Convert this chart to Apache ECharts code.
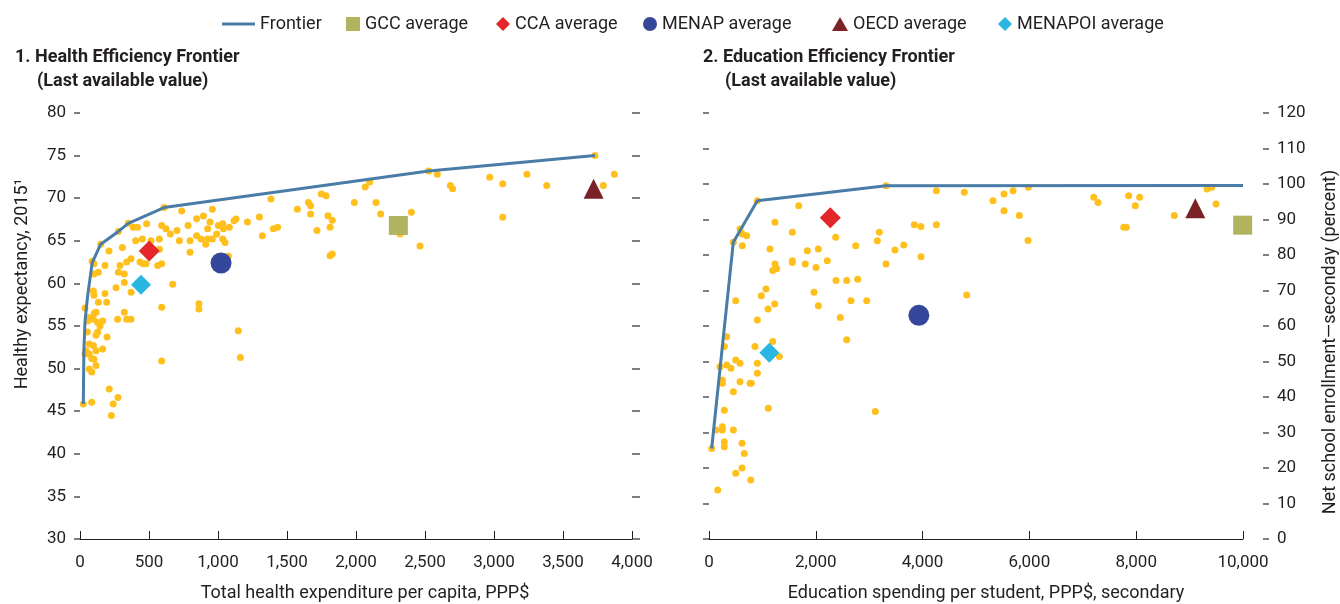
<!DOCTYPE html>
<html>
<head>
<meta charset="utf-8">
<script src="https://cdn.jsdelivr.net/npm/echarts@6/dist/echarts.min.js"></script>
<style>
html,body{margin:0;padding:0;background:#fff;}
#chart{width:1340px;height:604px;}
</style>
</head>
<body>
<div id="chart"></div>
<script>
// ---------- DATA ----------
const healthXTicks = [0, 500, 1000, 1500, 2000, 2500, 3000, 3500, 4000];
const healthYTicks = [30, 35, 40, 45, 50, 55, 60, 65, 70, 75, 80];
const eduXTicks = [0, 2000, 4000, 6000, 8000, 10000];
const eduYTicks = [0, 10, 20, 30, 40, 50, 60, 70, 80, 90, 100, 110, 120];

const healthFrontier = [[24,45.85],[28,52],[36,55.5],[55,58.5],[88,62.4],[150,64.6],[278,66.1],[350,67.05],[609,68.9],[2527,73.2],[3732,75.0]];
const healthCountries = [
 [609,68.9],[737,68.5],[959,68.7],[894,67.9],[845,67.6],[783,66.8],[703,66.2],[655,65.8],[623,66.4],[592,66.8],
 [483,67.0],[416,66.6],[386,66.6],[350,67.05],[278,66.1],[150,64.6],[210,63.8],[307,64.2],[403,65.0],[452,65.2],
 [514,65.0],[575,65.2],[575,64.0],[720,65.0],[797,65.0],[797,63.65],[845,65.6],[877,65.2],[911,64.6],[925,65.2],
 [959,65.2],[990,65.8],[925,66.4],[942,67.2],[1002,66.8],[1034,67.0],[1039,66.4],[1034,65.2],[1051,64.8],[1082,66.6],
 [1116,67.35],[1130,67.55],[1213,67.2],[1300,67.8],[88,62.6],[101,62.3],[181,62.1],[133,61.3],[101,61.1],[290,62.1],
 [338,62.5],[370,62.9],[435,62.5],[459,62.3],[478,62.3],[563,62.1],[592,62.3],[278,61.3],[321,61.1],[261,59.5],
 [321,60.1],[370,58.95],[672,59.9],[97,59.1],[101,58.6],[181,58.8],[193,57.8],[133,57.8],[36,57.1],[1075,63.2],
 [592,57.2],[862,57.6],[862,57.0],[321,56.6],[67,56.0],[104,56.5],[116,56.6],[97,55.8],[56,55.6],[128,55.4],
 [164,55.6],[145,55.0],[273,55.8],[338,55.8],[370,55.8],[53,54.3],[128,54.3],[116,53.9],[196,53.7],[1147,54.45],
 [67,52.9],[97,52.7],[43,52.1],[36,51.7],[67,51.7],[85,51.2],[101,51.1],[164,52.3],[116,52.1],[1162,51.3],
 [592,50.9],[116,50.35],[67,49.95],[85,49.6],[212,47.6],[275,46.6],[241,45.85],[227,44.5],[85,46.05],[24,45.85],
 [1384,69.9],[1575,68.7],[1655,69.5],[1671,69.1],[1671,68.15],[1749,70.5],[1783,70.3],[1797,67.95],[1828,67.4],[1812,66.6],
 [1717,66.2],[1812,63.25],[1828,63.45],[1988,69.5],[2067,71.3],[2099,71.9],[2145,69.5],[2179,68.15],[2401,68.35],[2319,65.8],
 [2464,64.4],[2527,73.2],[2589,72.8],[2684,71.5],[2700,71.1],[1401,66.4],[1432,66.6],[1321,65.6],
 [3732,75.0],[3872,72.8],[3792,71.5],[3239,72.8],[3382,71.5],[2969,72.45],[3063,71.7],[3063,67.75]
];
const healthGCC = [2307, 66.8];
const healthCCA = [502, 63.8];
const healthMENAP = [1022, 62.4];
const healthOECD = [3722, 71.1];
const healthMENAPOI = [442, 59.85];

const eduFrontier = [[50,25.5],[455,83.6],[905,95.3],[3315,99.5],[10000,99.6]];
const eduCountries = [
 [905,95.3],[3315,99.5],[1680,93.9],[1236,89.2],[581,87.3],[624,85.9],[706,85.4],[455,83.6],[624,82.6],[1560,86.4],
 [2372,85.0],[2747,82.6],[3189,86.4],[3152,84.0],[3315,77.5],[1142,81.7],[1841,81.2],[2047,81.7],[2215,78.4],[1560,78.4],
 [1560,77.9],[1803,77.5],[2004,76.5],[1236,77.5],[1268,76.1],[1193,75.6],[2378,72.8],[2579,72.8],[2784,73.2],[1067,70.4],
 [980,68.5],[1230,66.2],[1105,64.8],[1966,69.5],[2047,65.7],[2659,67.1],[2953,67.1],[2459,62.4],[500,67.1],[905,61.7],
 [2579,56.1],[331,57.0],[287,54.2],[861,54.2],[1193,55.6],[1317,51.4],[500,50.4],[581,49.5],[331,49.0],[412,48.1],
 [206,48.5],[905,49.5],[905,46.7],[250,44.8],[250,43.9],[581,44.3],[768,43.9],[792,43.9],[456,41.5],[1111,36.8],
 [3114,35.9],[287,36.3],[250,31.6],[250,30.7],[125,30.7],[456,30.7],[287,27.4],[287,26.0],[618,27.0],[661,24.1],
 [618,20.0],[500,18.5],[781,16.6],[163,13.8],[50,25.5],
 [3483,81.4],[3646,82.8],[3845,88.5],[3970,88.0],[4257,88.5],[3970,79.5],[4826,68.7],[4257,98.1],[4781,97.7],[5318,95.3],
 [5524,97.2],[5693,98.1],[5980,99.1],[5524,92.5],[5811,91.1],[5974,84.1],
 [7204,96.3],[7285,94.8],[7859,96.7],[8065,96.3],[7983,93.9],[7766,87.8],[7815,87.8],[8714,91.1],[9326,98.6],[9414,99.1],[9494,94.4]
];
const eduGCC = [9994, 88.4];
const eduCCA = [2272, 90.5];
const eduMENAP = [3930, 63.0];
const eduOECD = [9107, 93.2];
const eduMENAPOI = [1130, 52.5];

// ---------- STYLE ----------
const FONT = 'Roboto, "Liberation Sans", sans-serif';
const TXT = '#231f20';
const C = {
  frontier: '#4a7ca8', dots: '#ffc01e', gcc: '#b1b35f', cca: '#e2262a',
  menap: '#35479a', oecd: '#7b2226', menapoi: '#29b6e0'
};
const fmt = v => Number(v).toLocaleString('en-US');

function xAxisDef(grid, ticks) {
  return {
    type: 'value', gridIndex: grid,
    min: ticks[0], max: ticks[ticks.length-1], interval: ticks[1]-ticks[0],
    axisLine: {show: true, onZero: false, lineStyle: {color: TXT, width: 1}},
    axisTick: {show: true, inside: true, length: 8, lineStyle: {color: TXT, width: 1}},
    axisLabel: {margin: 15, fontSize: 17, color: TXT, fontFamily: FONT, formatter: fmt},
    splitLine: {show: false}
  };
}
function yAxisDef(grid, ticks, pos, showLabel, tickLen, offset) {
  return {
    type: 'value', gridIndex: grid, position: pos, offset: offset || 0,
    min: ticks[0], max: ticks[ticks.length-1], interval: ticks[1]-ticks[0],
    axisLine: {show: false},
    axisTick: {show: true, inside: false, length: tickLen, lineStyle: {color: '#555', width: 1.5}},
    axisLabel: {show: showLabel, margin: 14, fontSize: 17, color: TXT, fontFamily: FONT},
    splitLine: {show: false}
  };
}

function panelSeries(xi, yi, frontier, dots, gcc, cca, menap, oecd, menapoi) {
  const sc = (name, data, symbol, size, color) => ({
    name: name, type: 'scatter', xAxisIndex: xi, yAxisIndex: yi, data: data,
    symbol: symbol, symbolSize: size, itemStyle: {color: color, opacity: 1}, z: 5
  });
  return [
    {name: 'countries', type: 'scatter', xAxisIndex: xi, yAxisIndex: yi, data: dots,
     symbol: 'circle', symbolSize: 7, itemStyle: {color: C.dots, opacity: 1}, z: 2, silent: true},
    {name: 'Frontier', type: 'line', xAxisIndex: xi, yAxisIndex: yi, data: frontier,
     symbol: 'none', lineStyle: {color: C.frontier, width: 3}, itemStyle: {color: C.frontier}, z: 3},
    sc('GCC average', [gcc], 'rect', 19, C.gcc),
    sc('CCA average', [cca], 'diamond', 21, C.cca),
    sc('MENAP average', [menap], 'circle', 21, C.menap),
    sc('OECD average', [oecd], 'triangle', 20, C.oecd),
    sc('MENAPOI average', [menapoi], 'diamond', 20, C.menapoi)
  ];
}

function legendItem(name, left, icon, w, h) {
  return {
    data: [{name: name, icon: icon}], left: left, top: 15,
    itemWidth: w, itemHeight: h, itemGap: 0, padding: 0,
    selectedMode: false,
    textStyle: {fontSize: 18, color: TXT, fontFamily: FONT}
  };
}

const chart = echarts.init(document.getElementById('chart'), null, {renderer: 'canvas'});
chart.setOption({
  animation: false,
  backgroundColor: '#fff',
  legend: [
    legendItem('Frontier', 222, 'rect', 33, 3),
    legendItem('GCC average', 346, 'rect', 14, 14),
    legendItem('CCA average', 496, 'diamond', 14, 14),
    legendItem('MENAP average', 643, 'circle', 14, 14),
    legendItem('OECD average', 832, 'triangle', 16, 14),
    legendItem('MENAPOI average', 998, 'diamond', 14, 14)
  ],
  grid: [
    {left: 80, top: 113, width: 552, height: 426},
    {left: 709, top: 113, width: 534, height: 426}
  ],
  xAxis: [xAxisDef(0, healthXTicks), xAxisDef(1, eduXTicks)],
  yAxis: [
    yAxisDef(0, healthYTicks, 'left', true, 6),
    yAxisDef(0, healthYTicks, 'right', false, 8),
    yAxisDef(1, eduYTicks, 'left', false, 6),
    yAxisDef(1, eduYTicks, 'right', true, 6, 20)
  ],
  series: [].concat(
    panelSeries(0, 0, healthFrontier, healthCountries, healthGCC, healthCCA, healthMENAP, healthOECD, healthMENAPOI),
    panelSeries(1, 3, eduFrontier, eduCountries, eduGCC, eduCCA, eduMENAP, eduOECD, eduMENAPOI)
  ),
  graphic: [
    {type: 'text', left: 15, top: 48, style: {text: '1. Health Efficiency Frontier', font: 'bold 18px ' + FONT, fill: TXT}},
    {type: 'text', left: 37, top: 72, style: {text: '(Last available value)', font: 'bold 18px ' + FONT, fill: TXT}},
    {type: 'text', left: 703, top: 48, style: {text: '2. Education Efficiency Frontier', font: 'bold 18px ' + FONT, fill: TXT}},
    {type: 'text', left: 725, top: 72, style: {text: '(Last available value)', font: 'bold 18px ' + FONT, fill: TXT}},
    {type: 'text', x: 22, y: 284, rotation: Math.PI / 2,
     style: {text: 'Healthy expectancy, 2015¹', font: '18px ' + FONT, fill: TXT, align: 'center', verticalAlign: 'middle'}},
    {type: 'text', x: 1330, y: 342, rotation: Math.PI / 2,
     style: {text: 'Net school enrollment\u2014seconday (percent)', font: '18px ' + FONT, fill: TXT, align: 'center', verticalAlign: 'middle'}},
    {type: 'text', x: 365, y: 593,
     style: {text: 'Total health expenditure per capita, PPP$', font: '18px ' + FONT, fill: TXT, align: 'center', verticalAlign: 'middle'}},
    {type: 'text', x: 986, y: 593,
     style: {text: 'Education spending per student, PPP$, secondary', font: '18px ' + FONT, fill: TXT, align: 'center', verticalAlign: 'middle'}}
  ]
});
</script>
</body>
</html>
